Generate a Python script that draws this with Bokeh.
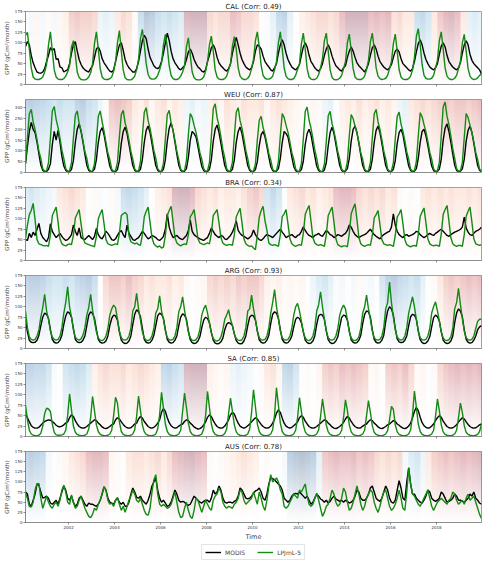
import numpy as np
from bokeh.plotting import figure
from bokeh.models import Range1d, FixedTicker, Legend, LegendItem
from bokeh.layouts import column
from bokeh.embed import file_html
from bokeh.resources import INLINE

FONT = "DejaVu Sans"

regions = ["CAL", "WEU", "BRA", "ARG", "SA", "AUS"]
corr_labels = ["0.49", "0.87", "0.34", "0.93", "0.85", "0.78"]
y_tops = [175, 338, 175, 175, 175, 175]
y_ticks = [[0, 25, 50, 75, 100, 125, 150, 175],
           [0, 50, 100, 150, 200, 250, 300],
           [0, 25, 50, 75, 100, 125, 150, 175],
           [0, 25, 50, 75, 100, 125, 150, 175],
           [0, 25, 50, 75, 100, 125, 150, 175],
           [0, 25, 50, 75, 100, 125, 150, 175]]
x_tick_years = [2002, 2004, 2006, 2008, 2010, 2012, 2014, 2016, 2018]
x_tick_labels = ["2002", "2004", "2006", "2008", "2010", "2012", "2014", "2016", "2018"]
series_names = ["MODIS", "LPJmL-5"]
first_month = "2000-02"   # monthly series, Feb 2000 .. Dec 2019
n_months = 239

# ---------------- monthly GPP (gC/m2/month) ----------------
modis_cal = [
    91, 103, 95, 70, 52, 40, 30, 28, 27, 30, 38,
    55, 70, 88, 82, 86, 60, 62, 42, 40, 30, 33, 35,
    50, 75, 95, 103, 80, 60, 48, 40, 35, 32, 30, 38,
    45, 65, 85, 90, 80, 62, 52, 45, 38, 32, 30, 35,
    55, 75, 95, 100, 82, 60, 48, 40, 35, 30, 30, 38,
    55, 80, 105, 118, 110, 85, 65, 55, 45, 40, 38, 42,
    55, 75, 100, 123, 105, 80, 62, 52, 45, 38, 35, 40,
    45, 60, 78, 85, 75, 60, 50, 42, 38, 32, 30, 35,
    55, 70, 88, 95, 85, 65, 52, 45, 40, 35, 32, 38,
    50, 75, 95, 113, 95, 75, 60, 50, 42, 38, 35, 40,
    55, 80, 95, 92, 85, 68, 55, 48, 42, 35, 32, 40,
    50, 75, 95, 107, 95, 75, 60, 50, 42, 38, 35, 40,
    48, 70, 90, 100, 90, 70, 55, 48, 40, 35, 32, 38,
    50, 70, 85, 95, 85, 68, 55, 45, 40, 35, 32, 40,
    45, 65, 80, 90, 80, 65, 52, 45, 40, 35, 30, 38,
    50, 70, 88, 95, 85, 68, 55, 48, 42, 38, 35, 40,
    48, 65, 80, 85, 78, 62, 50, 45, 40, 35, 32, 38,
    55, 78, 98, 107, 95, 75, 60, 50, 42, 38, 35, 40,
    50, 72, 92, 100, 90, 70, 55, 48, 42, 38, 35, 40,
    52, 75, 95, 105, 95, 72, 58, 50, 45, 40, 35, 25]
lpj_cal = [
    118, 125, 85, 40, 18, 13, 12, 12, 14, 18, 30,
    48, 95, 126, 80, 35, 18, 13, 12, 12, 14, 20, 30,
    45, 90, 105, 72, 30, 17, 12, 11, 11, 13, 18, 28,
    50, 98, 126, 85, 38, 18, 13, 12, 12, 14, 18, 32,
    55, 100, 129, 80, 35, 16, 12, 11, 11, 14, 20, 35,
    60, 110, 132, 95, 50, 24, 15, 13, 13, 15, 22, 35,
    52, 95, 120, 90, 45, 22, 14, 12, 12, 14, 20, 30,
    45, 90, 112, 70, 30, 16, 12, 11, 11, 13, 18, 32,
    55, 95, 116, 80, 35, 18, 13, 12, 12, 14, 20, 35,
    50, 92, 115, 85, 40, 20, 14, 12, 12, 15, 22, 38,
    60, 105, 126, 90, 45, 22, 15, 13, 13, 15, 20, 35,
    55, 100, 126, 85, 40, 20, 14, 12, 12, 14, 22, 36,
    50, 98, 123, 85, 38, 18, 13, 12, 12, 15, 24, 40,
    62, 105, 123, 80, 35, 17, 12, 11, 12, 15, 22, 38,
    55, 100, 121, 82, 38, 18, 13, 12, 12, 14, 20, 36,
    58, 102, 123, 85, 40, 20, 14, 12, 13, 15, 22, 38,
    55, 98, 121, 80, 36, 18, 13, 12, 12, 14, 20, 35,
    65, 115, 134, 95, 48, 22, 15, 13, 13, 15, 22, 40,
    58, 105, 126, 85, 40, 20, 14, 12, 12, 15, 22, 38,
    55, 100, 120, 80, 38, 20, 14, 12, 13, 16, 22, 25]

modis_weu = [
    40, 120, 190, 232, 200, 185, 140, 85, 35, 10, 4,
    5, 15, 40, 130, 190, 150, 195, 140, 75, 30, 10, 4,
    5, 14, 55, 140, 200, 225, 190, 140, 85, 34, 10, 4,
    5, 16, 60, 140, 190, 208, 175, 125, 75, 30, 9, 4,
    5, 14, 55, 135, 190, 210, 180, 130, 80, 32, 10, 4,
    5, 15, 60, 140, 195, 215, 185, 135, 82, 32, 10, 4,
    5, 15, 60, 145, 205, 230, 195, 140, 85, 34, 10, 4,
    6, 18, 70, 150, 190, 180, 165, 120, 72, 28, 9, 4,
    5, 15, 60, 145, 200, 220, 185, 135, 82, 32, 10, 4,
    5, 15, 58, 140, 190, 210, 180, 130, 80, 32, 10, 4,
    5, 14, 50, 125, 175, 190, 165, 120, 72, 28, 9, 4,
    6, 18, 65, 140, 190, 180, 165, 120, 72, 28, 9, 4,
    5, 14, 52, 130, 180, 200, 175, 125, 76, 30, 9, 4,
    4, 12, 45, 125, 185, 210, 180, 130, 80, 32, 10, 4,
    6, 18, 65, 145, 200, 215, 185, 135, 82, 32, 10, 4,
    5, 15, 60, 140, 195, 215, 185, 135, 82, 32, 10, 4,
    5, 15, 55, 135, 185, 200, 175, 125, 76, 30, 9, 4,
    6, 18, 65, 140, 190, 200, 170, 125, 76, 30, 9, 4,
    5, 16, 62, 150, 205, 225, 190, 140, 85, 34, 10, 4,
    6, 17, 62, 145, 195, 215, 185, 135, 82, 32, 10, 5]
lpj_weu = [
    45, 160, 272, 292, 234, 199, 152, 99, 65, 18, 5,
    8, 45, 160, 285, 306, 245, 208, 159, 104, 65, 18, 5,
    8, 45, 160, 265, 285, 228, 194, 148, 97, 65, 18, 5,
    7, 40, 150, 260, 285, 235, 190, 140, 90, 60, 15, 5,
    8, 48, 165, 268, 288, 230, 196, 150, 98, 62, 17, 5,
    8, 50, 170, 279, 300, 240, 204, 156, 102, 66, 18, 6,
    7, 42, 155, 268, 288, 230, 196, 150, 98, 60, 16, 5,
    9, 55, 175, 273, 255, 218, 186, 142, 93, 62, 17, 5,
    8, 45, 165, 296, 318, 254, 216, 165, 108, 68, 18, 5,
    8, 48, 168, 279, 300, 240, 204, 156, 102, 64, 17, 5,
    7, 40, 150, 242, 260, 208, 177, 135, 88, 58, 15, 5,
    8, 50, 170, 273, 254, 218, 186, 142, 93, 62, 17, 5,
    7, 42, 155, 282, 303, 242, 206, 158, 103, 65, 18, 5,
    6, 38, 145, 263, 283, 226, 192, 147, 96, 62, 16, 5,
    9, 52, 170, 268, 250, 214, 182, 139, 91, 60, 16, 5,
    8, 45, 160, 272, 292, 234, 199, 152, 99, 64, 17, 5,
    7, 44, 158, 260, 280, 224, 190, 146, 95, 62, 16, 5,
    9, 52, 168, 277, 258, 222, 188, 144, 94, 62, 17, 5,
    8, 48, 170, 303, 326, 261, 222, 170, 111, 66, 18, 5,
    8, 46, 162, 273, 254, 218, 186, 142, 93, 60, 16, 6]

modis_bra = [
    50, 48, 65, 55, 68, 60, 75, 89, 65, 55, 50,
    45, 55, 88, 70, 62, 55, 60, 65, 58, 52, 48, 50,
    55, 62, 85, 70, 60, 78, 55, 52, 50, 55, 60, 55,
    50, 58, 77, 62, 55, 52, 60, 70, 65, 58, 50, 48,
    52, 60, 68, 72, 62, 55, 85, 65, 58, 50, 48, 52,
    55, 62, 70, 65, 58, 52, 55, 60, 58, 55, 50, 48,
    52, 58, 75, 112, 80, 65, 55, 58, 60, 55, 52, 50,
    55, 60, 72, 97, 70, 62, 58, 55, 52, 50, 48, 52,
    55, 65, 78, 70, 62, 58, 55, 60, 58, 52, 50, 55,
    60, 68, 80, 95, 72, 65, 60, 58, 55, 52, 55, 60,
    73, 62, 55, 50, 48, 52, 58, 62, 60, 58, 55, 60,
    65, 70, 75, 68, 62, 55, 58, 60, 62, 58, 55, 60,
    62, 70, 81, 72, 65, 60, 58, 55, 60, 62, 65, 60,
    58, 65, 72, 68, 62, 60, 55, 58, 62, 60, 58, 62,
    65, 72, 85, 80, 70, 62, 58, 55, 58, 60, 62, 65,
    70, 75, 68, 62, 58, 55, 52, 58, 62, 65, 68, 70,
    80, 112, 85, 70, 62, 58, 55, 60, 62, 58, 60, 62,
    65, 70, 68, 62, 58, 55, 58, 62, 65, 62, 60, 65,
    68, 72, 75, 70, 65, 60, 58, 62, 65, 68, 70, 72,
    75, 80, 104, 78, 68, 62, 60, 65, 70, 72, 75, 80]
lpj_bra = [
    53, 85, 110, 120, 137, 98, 50, 40, 38, 36, 35,
    36, 34, 62, 108, 118, 128, 92, 52, 40, 37, 35, 38,
    40, 38, 60, 102, 112, 122, 88, 55, 42, 40, 38, 36,
    35, 33, 58, 100, 112, 122, 88, 50, 40, 38, 36, 38,
    40, 38, 65, 108, 112, 115, 110, 60, 45, 42, 40, 42,
    38, 36, 62, 105, 118, 128, 92, 55, 40, 35, 32, 35,
    30, 32, 60, 108, 120, 130, 94, 55, 42, 38, 35, 38,
    40, 38, 62, 105, 112, 122, 88, 52, 42, 40, 38, 40,
    42, 40, 65, 108, 115, 122, 90, 55, 42, 38, 36, 38,
    38, 36, 62, 105, 115, 125, 90, 52, 40, 36, 34, 35,
    30, 26, 60, 104, 120, 130, 95, 73, 42, 38, 36, 38,
    36, 34, 62, 105, 112, 122, 88, 52, 40, 36, 34, 36,
    38, 36, 65, 110, 122, 132, 95, 55, 42, 38, 36, 38,
    36, 34, 62, 108, 118, 128, 92, 52, 38, 35, 33, 35,
    35, 33, 65, 112, 125, 136, 98, 55, 40, 36, 34, 36,
    38, 36, 60, 102, 110, 120, 86, 50, 40, 38, 36, 38,
    36, 34, 60, 104, 112, 122, 88, 50, 38, 35, 33, 35,
    36, 34, 62, 106, 116, 126, 90, 52, 40, 37, 35, 37,
    36, 34, 64, 110, 122, 132, 95, 55, 40, 36, 34, 36,
    36, 34, 62, 106, 118, 128, 92, 52, 40, 38, 36, 38]

modis_arg = [
    69, 40, 20, 15, 14, 15, 20, 32, 55, 75, 85,
    82, 72, 45, 22, 15, 13, 14, 20, 32, 58, 78, 88,
    85, 75, 48, 22, 16, 14, 15, 20, 30, 55, 80, 88,
    84, 72, 45, 22, 15, 13, 14, 18, 30, 55, 72, 80,
    78, 68, 40, 20, 14, 12, 13, 18, 30, 58, 82, 93,
    88, 76, 48, 22, 15, 13, 14, 20, 32, 55, 78, 85,
    82, 72, 45, 22, 15, 13, 14, 20, 30, 55, 75, 83,
    80, 70, 42, 21, 14, 12, 13, 18, 28, 50, 68, 75,
    72, 62, 38, 20, 13, 11, 12, 16, 25, 45, 58, 62,
    60, 55, 35, 19, 13, 11, 12, 18, 30, 55, 75, 80,
    78, 68, 42, 21, 15, 13, 14, 20, 32, 60, 82, 88,
    85, 72, 45, 22, 15, 13, 14, 20, 30, 52, 70, 75,
    72, 62, 40, 20, 14, 12, 13, 18, 30, 58, 78, 82,
    80, 70, 42, 21, 14, 12, 13, 18, 28, 52, 74, 80,
    78, 68, 42, 21, 15, 13, 14, 20, 32, 60, 82, 90,
    88, 75, 45, 22, 15, 13, 14, 20, 32, 65, 90, 100,
    95, 80, 48, 23, 16, 14, 15, 20, 30, 55, 76, 82,
    80, 70, 42, 21, 14, 12, 13, 18, 28, 52, 74, 80,
    76, 66, 40, 20, 14, 12, 13, 18, 30, 62, 85, 95,
    90, 76, 45, 22, 15, 13, 14, 20, 30, 45, 52, 55]
lpj_arg = [
    90, 50, 28, 22, 20, 22, 30, 45, 75, 98, 130,
    90, 70, 42, 27, 22, 20, 22, 30, 50, 85, 110, 148,
    100, 75, 45, 27, 22, 20, 23, 32, 50, 80, 98, 130,
    92, 65, 40, 25, 20, 19, 22, 30, 48, 80, 95, 104,
    98, 70, 42, 26, 21, 20, 22, 30, 48, 90, 100, 132,
    95, 68, 40, 25, 20, 19, 22, 30, 48, 85, 95, 126,
    90, 70, 42, 26, 21, 20, 22, 30, 50, 88, 100, 124,
    92, 65, 40, 25, 20, 19, 21, 28, 45, 80, 95, 104,
    85, 60, 38, 24, 19, 18, 20, 28, 45, 70, 80, 93,
    70, 55, 35, 24, 20, 19, 21, 30, 50, 90, 95, 128,
    95, 70, 42, 26, 21, 20, 22, 30, 50, 85, 110, 141,
    100, 72, 42, 26, 21, 20, 22, 30, 48, 80, 100, 108,
    90, 65, 40, 25, 20, 19, 22, 30, 50, 90, 105, 136,
    100, 70, 42, 26, 21, 20, 22, 30, 48, 80, 95, 104,
    95, 68, 40, 25, 20, 19, 21, 28, 48, 85, 100, 128,
    95, 70, 42, 26, 21, 20, 22, 30, 50, 95, 110, 159,
    110, 75, 45, 27, 22, 20, 22, 30, 50, 85, 105, 124,
    100, 70, 42, 26, 21, 20, 22, 30, 48, 85, 100, 112,
    90, 65, 40, 25, 20, 19, 21, 28, 48, 95, 110, 144,
    105, 72, 42, 26, 21, 20, 22, 30, 48, 65, 70, 70]

modis_sa = [
    55, 45, 35, 26, 22, 20, 20, 22, 27, 32, 36,
    38, 40, 39, 36, 32, 27, 24, 23, 25, 28, 32, 35,
    45, 52, 48, 38, 30, 24, 21, 20, 21, 24, 28, 32,
    36, 40, 38, 32, 28, 23, 20, 19, 21, 24, 28, 30,
    40, 45, 42, 35, 29, 24, 21, 20, 21, 25, 30, 32,
    42, 48, 44, 36, 30, 24, 21, 20, 22, 26, 32, 40,
    58, 67, 60, 45, 33, 26, 22, 20, 21, 25, 28, 30,
    36, 40, 38, 32, 28, 23, 20, 18, 19, 22, 28, 35,
    46, 52, 48, 38, 30, 24, 21, 20, 21, 25, 32, 40,
    52, 58, 54, 42, 32, 25, 22, 20, 22, 26, 30, 35,
    40, 45, 42, 35, 29, 24, 21, 20, 21, 25, 32, 42,
    56, 64, 58, 44, 32, 25, 22, 20, 22, 26, 30, 35,
    45, 50, 46, 37, 30, 24, 21, 20, 21, 24, 28, 32,
    36, 40, 38, 32, 28, 23, 20, 19, 21, 24, 28, 34,
    42, 48, 44, 36, 29, 24, 21, 20, 21, 25, 28, 30,
    36, 40, 38, 32, 28, 23, 20, 19, 21, 24, 28, 30,
    34, 38, 36, 30, 27, 23, 20, 19, 21, 25, 32, 45,
    60, 70, 62, 46, 33, 26, 22, 20, 21, 25, 30, 38,
    45, 50, 46, 37, 30, 24, 21, 20, 21, 24, 28, 35,
    40, 45, 42, 35, 29, 24, 21, 20, 21, 24, 28, 30]
lpj_sa = [
    76, 40, 15, 6, 3, 2, 2, 3, 8, 25, 55,
    68, 66, 60, 30, 10, 4, 3, 3, 4, 6, 15, 50,
    102, 64, 25, 10, 5, 3, 2, 2, 3, 6, 18, 45,
    96, 62, 28, 12, 5, 3, 2, 2, 3, 6, 15, 50,
    94, 80, 35, 12, 5, 3, 2, 2, 3, 6, 16, 48,
    97, 62, 28, 11, 5, 3, 2, 2, 3, 6, 18, 52,
    106, 68, 30, 12, 5, 3, 2, 2, 3, 6, 15, 60,
    104, 70, 32, 12, 5, 3, 2, 2, 3, 6, 18, 50,
    108, 70, 30, 12, 5, 3, 2, 2, 3, 7, 18, 55,
    92, 60, 28, 11, 5, 3, 2, 2, 3, 6, 18, 58,
    112, 72, 30, 12, 5, 3, 2, 2, 3, 6, 16, 52,
    117, 75, 32, 12, 5, 3, 2, 2, 3, 6, 15, 45,
    93, 60, 28, 11, 5, 3, 2, 2, 3, 6, 16, 48,
    90, 58, 27, 11, 5, 3, 2, 2, 3, 6, 15, 45,
    88, 62, 28, 11, 5, 3, 2, 2, 3, 6, 15, 50,
    86, 58, 26, 10, 5, 3, 2, 2, 3, 6, 14, 40,
    72, 65, 28, 11, 5, 3, 2, 2, 3, 6, 16, 52,
    109, 70, 30, 12, 5, 3, 2, 2, 3, 6, 15, 48,
    90, 62, 28, 11, 5, 3, 2, 2, 3, 6, 15, 45,
    80, 58, 26, 10, 5, 3, 2, 2, 3, 5, 12, 30]

modis_aus = [
    75, 70, 45, 40, 55, 70, 95, 92, 75, 60, 62,
    65, 60, 48, 45, 50, 55, 45, 60, 75, 90, 80, 60,
    55, 65, 50, 40, 45, 60, 65, 55, 45, 40, 48, 45,
    45, 42, 40, 45, 55, 70, 88, 80, 60, 50, 48, 45,
    55, 60, 50, 45, 50, 40, 40, 50, 70, 85, 75, 62,
    60, 65, 55, 50, 45, 55, 70, 90, 100, 110, 80, 60,
    50, 55, 48, 40, 42, 50, 65, 80, 70, 55, 50, 52,
    50, 45, 42, 45, 55, 65, 60, 55, 50, 48, 52, 55,
    55, 50, 60, 80, 70, 75, 90, 80, 60, 50, 48, 50,
    50, 48, 52, 55, 65, 85, 80, 70, 60, 58, 60, 65,
    72, 78, 80, 85, 75, 60, 55, 70, 95, 110, 108, 105,
    100, 95, 90, 80, 60, 55, 50, 55, 65, 70, 72, 70,
    75, 70, 65, 60, 65, 55, 45, 50, 60, 70, 65, 58,
    55, 50, 55, 48, 52, 60, 65, 58, 55, 52, 55, 50,
    55, 52, 48, 50, 55, 65, 80, 75, 60, 55, 55, 60,
    70, 85, 90, 75, 60, 55, 52, 60, 75, 90, 80, 60,
    50, 48, 55, 80, 103, 85, 60, 55, 100, 135, 95, 70,
    70, 60, 55, 50, 48, 55, 65, 80, 75, 60, 55, 52,
    55, 60, 75, 70, 60, 50, 52, 55, 60, 70, 65, 55,
    55, 52, 50, 55, 60, 70, 65, 75, 60, 55, 48, 45]
lpj_aus = [
    72, 60, 40, 38, 50, 80, 95, 96, 60, 35, 50,
    65, 50, 40, 35, 45, 50, 40, 55, 80, 92, 75, 50,
    45, 68, 50, 35, 40, 55, 65, 50, 35, 25, 15, 12,
    20, 35, 30, 45, 55, 72, 88, 80, 55, 45, 48, 40,
    55, 62, 45, 30, 40, 25, 40, 55, 65, 80, 70, 55,
    50, 60, 45, 30, 20, 18, 35, 75, 105, 118, 70, 45,
    40, 45, 40, 35, 38, 45, 60, 75, 50, 25, 12, 15,
    35, 50, 30, 15, 10, 30, 60, 55, 40, 25, 40, 55,
    45, 35, 30, 55, 65, 70, 85, 75, 50, 40, 35, 40,
    38, 35, 45, 50, 60, 80, 75, 55, 45, 50, 55, 60,
    75, 60, 45, 75, 60, 40, 30, 55, 90, 118, 100, 105,
    110, 100, 80, 70, 40, 35, 40, 50, 60, 70, 65, 60,
    80, 75, 85, 95, 65, 45, 40, 45, 60, 72, 55, 35,
    15, 25, 40, 45, 60, 80, 70, 50, 40, 45, 60, 85,
    75, 50, 30, 35, 50, 70, 90, 70, 45, 30, 40, 60,
    70, 80, 75, 50, 35, 25, 40, 60, 75, 80, 60, 40,
    30, 35, 45, 60, 80, 60, 35, 30, 75, 135, 95, 70,
    65, 55, 45, 40, 50, 60, 70, 80, 60, 40, 30, 40,
    50, 55, 60, 55, 50, 45, 55, 60, 75, 70, 55, 45,
    50, 55, 45, 60, 70, 55, 60, 65, 50, 35, 20, 10]

# ---------------- quarterly background index (2000Q1 .. 2019Q4), + = red, - = blue ----------------
bg_cal = [0, -0.1, 0.1, -0.1, 0.05, -0.1, 0.1, 0.15, 0.35, 0.4, 0.35, 0.35,
          0.3, -0.15, -0.2, -0.15, 0.2, 0.3, 0.25, 0.05, -0.35, -0.55, -0.5, -0.35,
          -0.3, -0.35, -0.3, -0.25, 0.55, 0.75, 0.8, 0.75, 0.3, 0.25, 0.3, 0.3,
          0.45, 0.4, 0.3, 0.3, 0.25, 0.0, -0.05, -0.2, -0.4, -0.45, -0.2, 0.0,
          0.15, 0.2, 0.25, 0.3, 0.3, 0.25, 0.3, 0.45, 0.7, 0.75, 0.8, 0.7,
          0.45, 0.5, 0.45, 0.5, 0.25, 0.3, 0.2, 0.2, -0.35, -0.4, -0.3, 0.2,
          0.4, 0.5, 0.55, 0.45, 0.2, -0.2, -0.25, -0.2]
bg_weu = [-0.45, -0.5, -0.45, -0.4, -0.35, -0.3, -0.35, -0.3, -0.3, -0.45, -0.5, -0.35,
          -0.3, -0.15, 0.05, 0.4, 0.45, 0.4, 0.35, 0.2, 0.15, 0.25, 0.1, 0.2,
          0.25, 0.1, 0.2, 0.15, -0.15, -0.2, -0.1, -0.15, 0.15, 0.2, 0.1, 0.25,
          0.2, 0.15, 0.25, 0.2, 0.2, 0.25, 0.1, 0.2, 0.25, 0.2, 0.15, 0.1,
          0.05, 0.0, 0.1, 0.05, -0.15, -0.2, 0.0, 0.15, 0.2, 0.15, 0.25, 0.15,
          0.2, 0.25, 0.15, 0.2, 0.1, -0.15, -0.2, 0.2, 0.25, 0.3, 0.25, 0.3,
          0.35, 0.4, 0.35, 0.4, 0.4, 0.35, 0.4, 0.45]
bg_bra = [-0.25, -0.3, -0.25, -0.2, -0.15, -0.1, 0.2, 0.25, 0.3, 0.25, 0.2, 0.0,
          0.05, -0.05, 0.0, 0.05, -0.1, -0.35, -0.4, -0.35, -0.3, -0.2, 0.0, 0.15,
          0.2, 0.25, 0.55, 0.7, 0.65, 0.5, 0.3, 0.25, 0.2, 0.25, 0.15, 0.2,
          0.2, 0.15, 0.25, 0.35, 0.4, 0.3, -0.3, -0.4, -0.3, 0.0, 0.2, 0.25,
          0.3, 0.2, 0.25, 0.15, 0.2, 0.25, 0.45, 0.5, 0.5, 0.45, 0.3, 0.25,
          0.3, 0.25, 0.3, 0.2, 0.25, 0.05, 0.0, 0.05, 0.0, 0.2, 0.25, 0.2,
          0.25, 0.2, 0.25, 0.2, 0.2, 0.25, 0.2, 0.25]
bg_arg = [-0.45, -0.5, -0.5, -0.45, -0.35, -0.3, -0.3, -0.35, -0.3, -0.4, -0.45, -0.5,
          -0.35, 0.0, 0.3, 0.4, 0.4, 0.35, 0.45, 0.35, 0.3, 0.2, 0.25, 0.2,
          0.2, 0.25, 0.15, 0.2, 0.05, 0.0, 0.05, 0.1, 0.3, 0.35, 0.3, 0.35,
          0.3, 0.4, 0.35, 0.4, 0.4, 0.3, 0.15, 0.1, 0.15, 0.05, 0.1, 0.05,
          0.1, 0.0, -0.15, -0.25, -0.3, -0.2, -0.05, -0.1, 0.0, -0.1, 0.05, -0.05,
          -0.1, 0.0, -0.3, -0.45, -0.5, -0.4, -0.35, -0.3, -0.35, -0.2, 0.0, 0.05,
          0.2, 0.35, 0.4, 0.35, 0.4, 0.45, 0.4, 0.45]
bg_sa = [-0.45, -0.45, -0.4, -0.4, -0.3, -0.05, 0.0, -0.3, -0.35, -0.4, -0.35, -0.25,
         0.15, 0.25, 0.3, 0.25, 0.25, 0.3, 0.2, 0.25, 0.3, 0.25, 0.2, 0.15,
         -0.4, -0.45, -0.35, -0.3, 0.55, 0.7, 0.65, 0.6, 0.15, 0.1, 0.05, 0.1,
         -0.15, -0.2, -0.15, -0.1, 0.0, 0.05, 0.2, 0.25, 0.1, -0.4, -0.45, -0.3,
         0.0, 0.05, 0.0, 0.1, 0.35, 0.4, 0.35, 0.45, 0.4, 0.45, 0.4, 0.35,
         0.05, 0.1, 0.0, 0.35, 0.4, 0.35, 0.45, 0.3, 0.05, 0.1, 0.0, 0.05,
         0.3, 0.4, 0.45, 0.5, 0.45, 0.5, 0.45, 0.5]
bg_aus = [-0.45, -0.5, -0.45, -0.4, -0.1, 0.0, 0.05, 0.1, 0.2, 0.25, 0.3, 0.45,
          0.5, 0.5, 0.45, 0.1, 0.05, 0.0, 0.2, 0.25, 0.25, 0.2, 0.25, 0.3,
          0.2, 0.3, 0.45, 0.5, 0.55, 0.6, 0.5, 0.45, 0.05, 0.0, 0.05, 0.1,
          0.15, 0.2, 0.25, 0.2, 0.15, 0.0, 0.05, 0.0, 0.0, -0.1, -0.5, -0.55,
          -0.6, -0.55, -0.5, -0.2, 0.4, 0.45, 0.5, 0.45, 0.45, 0.5, 0.4, 0.45,
          0.4, 0.3, 0.25, 0.3, 0.25, 0.3, -0.1, -0.25, -0.3, -0.15, 0.2, 0.35,
          0.4, 0.45, 0.4, 0.45, 0.5, 0.45, 0.5, 0.55]

modis_all = [modis_cal, modis_weu, modis_bra, modis_arg, modis_sa, modis_aus]
lpj_all = [lpj_cal, lpj_weu, lpj_bra, lpj_arg, lpj_sa, lpj_aus]
bg_all = [bg_cal, bg_weu, bg_bra, bg_arg, bg_sa, bg_aus]

# ---------------- styling helpers ----------------
RDBU = ["#053061", "#2166ac", "#4393c3", "#92c5de", "#d1e5f0", "#f7f7f7",
        "#fddbc7", "#f4a582", "#d6604d", "#b2182b", "#67001f"]
RDBU_RGB = np.array([[int(c[i:i + 2], 16) for i in (1, 3, 5)] for c in RDBU], dtype=float)
MODIS_COLOR = "black"
LPJ_COLOR = "#138a13"
SHADE_GAIN = 1.7     # colour-scale stretch of the shading
SHADE_ALPHA = 0.30   # opacity at the top of each panel (fades to 0 at the bottom)


def cmap(v):
    t = (np.clip(np.asarray(v, dtype=float) * SHADE_GAIN, -1, 1) + 1) / 2 * (len(RDBU) - 1)
    i0 = np.clip(np.floor(t).astype(int), 0, len(RDBU) - 2)
    f = (t - i0)[:, None]
    return RDBU_RGB[i0] * (1 - f) + RDBU_RGB[i0 + 1] * f


def shade_image(vals, ny=48, amax=SHADE_ALPHA):
    rgb = cmap(vals)
    nx = len(vals)
    img = np.empty((ny, nx), dtype=np.uint32)
    view = img.view(dtype=np.uint8).reshape((ny, nx, 4))
    alpha = amax * (np.arange(ny) + 0.5) / ny
    for c in range(3):
        view[:, :, c] = np.round(rgb[None, :, c]).astype(np.uint8)
    view[:, :, 3] = np.round(255 * alpha[:, None] * np.ones((1, nx))).astype(np.uint8)
    return img


t = 2000 + (np.arange(1, 1 + n_months) + 0.5) / 12.0

figs = []
for i, reg in enumerate(regions):
    last = (i == len(regions) - 1)
    p = figure(width=484, height=103 if last else 88,
               output_backend="svg", toolbar_location=None,
               x_range=Range1d(t[0], t[-1]), y_range=Range1d(0, y_tops[i]),
               min_border_left=22, min_border_right=3,
               min_border_top=11, min_border_bottom=18 if last else 4)
    p.title.text = f"{reg} (Corr: {corr_labels[i]})"
    p.title.align = "center"
    p.title.text_font = FONT
    p.title.text_font_size = "7px"
    p.title.text_font_style = "normal"
    p.title.text_color = "#222222"
    p.title.standoff = 1
    p.grid.visible = False
    p.outline_line_color = "#888888"
    p.outline_line_width = 0.8

    bg = bg_all[i]
    p.image_rgba(image=[shade_image(bg)], x=2000, y=0, dw=len(bg) / 4.0, dh=y_tops[i])

    p.line(t, modis_all[i], line_color=MODIS_COLOR, line_width=1.4)
    p.line(t, lpj_all[i], line_color=LPJ_COLOR, line_width=1.4)

    p.yaxis.ticker = FixedTicker(ticks=y_ticks[i])
    p.yaxis.axis_label = "GPP (gC/m²/month)"
    p.yaxis.axis_label_text_font = FONT
    p.yaxis.axis_label_text_font_size = "5.5px"
    p.yaxis.axis_label_text_font_style = "normal"
    p.yaxis.axis_label_standoff = 2
    p.yaxis.major_label_text_font = FONT
    p.yaxis.major_label_text_font_size = "4px"
    p.yaxis.major_label_standoff = 1

    p.xaxis.ticker = FixedTicker(ticks=x_tick_years)
    if last:
        p.xaxis.major_label_overrides = {y: s for y, s in zip(x_tick_years, x_tick_labels)}
        p.xaxis.major_label_text_font = FONT
        p.xaxis.major_label_text_font_size = "4px"
        p.xaxis.major_label_standoff = 1
        p.xaxis.axis_label = "Time"
        p.xaxis.axis_label_text_font = FONT
        p.xaxis.axis_label_text_font_size = "6.5px"
        p.xaxis.axis_label_text_font_style = "normal"
        p.xaxis.axis_label_standoff = 1
    else:
        p.xaxis.major_label_text_alpha = 0
        p.xaxis.major_label_text_font_size = "1px"
        p.xaxis.major_label_standoff = 0
    for ax in (p.xaxis[0], p.yaxis[0]):
        ax.axis_line_color = "#888888"
        ax.axis_line_width = 0.8
        ax.major_tick_line_color = "#444444"
        ax.major_tick_line_width = 0.6
        ax.major_tick_in = 0
        ax.major_tick_out = 2
        ax.minor_tick_line_color = None
        ax.major_label_text_color = "#333333"
    figs.append(p)

# legend strip below the panels (proxy renderers carry only the line styles)
lf = figure(width=484, height=18, output_backend="svg", toolbar_location=None,
            x_range=Range1d(0, 1), y_range=Range1d(0, 1),
            min_border_left=22, min_border_right=3, min_border_top=0, min_border_bottom=0)
lf.axis.visible = False
lf.grid.visible = False
lf.outline_line_color = None
r1 = lf.line(x=[np.nan, np.nan], y=[np.nan, np.nan], line_color=MODIS_COLOR, line_width=1.4)
r2 = lf.line(x=[np.nan, np.nan], y=[np.nan, np.nan], line_color=LPJ_COLOR, line_width=1.4)
legend = Legend(items=[LegendItem(label=series_names[0], renderers=[r1]),
                       LegendItem(label=series_names[1], renderers=[r2])],
                orientation="horizontal", location="center",
                label_text_font=FONT, label_text_font_size="6px",
                glyph_width=16, glyph_height=8, label_height=8,
                label_standoff=4, spacing=12, padding=3, margin=0,
                border_line_color="#cccccc", border_line_width=0.8)
lf.add_layout(legend, "center")
figs.append(lf)

layout = column(*figs, spacing=0)
open("out.html", "w").write(file_html(layout, INLINE))
